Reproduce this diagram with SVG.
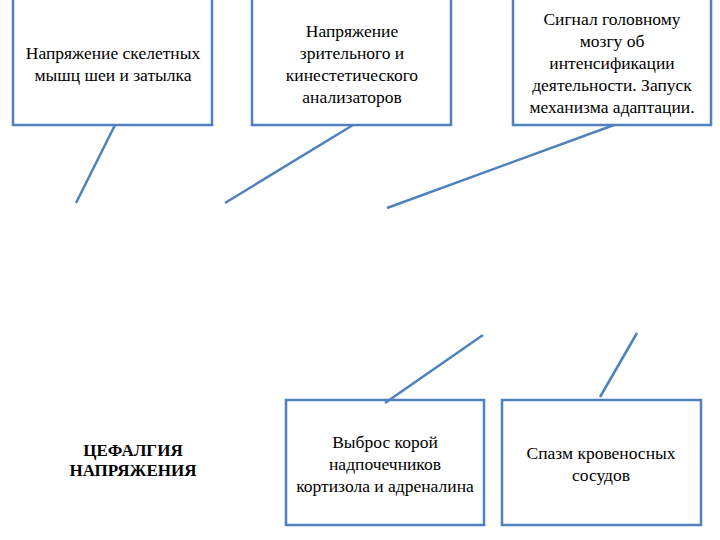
<svg xmlns="http://www.w3.org/2000/svg" width="720" height="540" viewBox="0 0 720 540">
<style>
.box{fill:#fff;stroke:#4f81bd;stroke-width:2.5}
.c{stroke:#4f81bd;stroke-width:2.5;fill:none}
</style>
<rect width="720" height="540" fill="#fff"/>
<g id="n1"><rect class="box" x="13" y="-2" width="199" height="127"/>
<text x="113" y="59" style="font-family:'Liberation Serif',serif;font-size:17.5px;text-anchor:middle">Напряжение скелетных</text>
<text x="113" y="81" style="font-family:'Liberation Serif',serif;font-size:17.5px;text-anchor:middle">мышц шеи и затылка</text></g>
<g id="n2"><rect class="box" x="252" y="-2" width="199" height="127"/>
<text x="352" y="37" style="font-family:'Liberation Serif',serif;font-size:17.5px;text-anchor:middle">Напряжение</text>
<text x="352" y="59" style="font-family:'Liberation Serif',serif;font-size:17.5px;text-anchor:middle">зрительного и</text>
<text x="352" y="81" style="font-family:'Liberation Serif',serif;font-size:17.5px;text-anchor:middle">кинестетического</text>
<text x="352" y="103" style="font-family:'Liberation Serif',serif;font-size:17.5px;text-anchor:middle">анализаторов</text></g>
<g id="n3"><rect class="box" x="513" y="-2" width="198" height="127"/>
<text x="612" y="25" style="font-family:'Liberation Serif',serif;font-size:17.5px;text-anchor:middle">Сигнал головному</text>
<text x="612" y="47" style="font-family:'Liberation Serif',serif;font-size:17.5px;text-anchor:middle">мозгу об</text>
<text x="612" y="69" style="font-family:'Liberation Serif',serif;font-size:17.5px;text-anchor:middle">интенсификации</text>
<text x="612" y="91" style="font-family:'Liberation Serif',serif;font-size:17.5px;text-anchor:middle">деятельности. Запуск</text>
<text x="612" y="113" style="font-family:'Liberation Serif',serif;font-size:17.5px;text-anchor:middle">механизма адаптации.</text></g>
<g id="n4"><rect class="box" x="286" y="400" width="198" height="125"/>
<text x="385" y="448" style="font-family:'Liberation Serif',serif;font-size:17.5px;text-anchor:middle">Выброс корой</text>
<text x="385" y="470" style="font-family:'Liberation Serif',serif;font-size:17.5px;text-anchor:middle">надпочечников</text>
<text x="385" y="492" style="font-family:'Liberation Serif',serif;font-size:17.5px;text-anchor:middle">кортизола и адреналина</text></g>
<g id="n5"><rect class="box" x="502" y="400" width="199" height="125"/>
<text x="601" y="459" style="font-family:'Liberation Serif',serif;font-size:17.5px;text-anchor:middle">Спазм кровеносных</text>
<text x="601" y="481" style="font-family:'Liberation Serif',serif;font-size:17.5px;text-anchor:middle">сосудов</text></g>
<g id="title">
<text x="133" y="456" style="font-family:'Liberation Serif',serif;font-size:17px;font-weight:bold;text-anchor:middle">ЦЕФАЛГИЯ</text>
<text x="133" y="476" style="font-family:'Liberation Serif',serif;font-size:17px;font-weight:bold;text-anchor:middle">НАПРЯЖЕНИЯ</text></g>
<g id="connectors">
<line class="c" x1="115" y1="125" x2="76" y2="203"/>
<line class="c" x1="353" y1="125" x2="225" y2="203"/>
<line class="c" x1="614" y1="125" x2="387" y2="208"/>
<line class="c" x1="483" y1="335" x2="385" y2="403"/>
<line class="c" x1="637" y1="333" x2="600" y2="397"/>
</g>
</svg>
